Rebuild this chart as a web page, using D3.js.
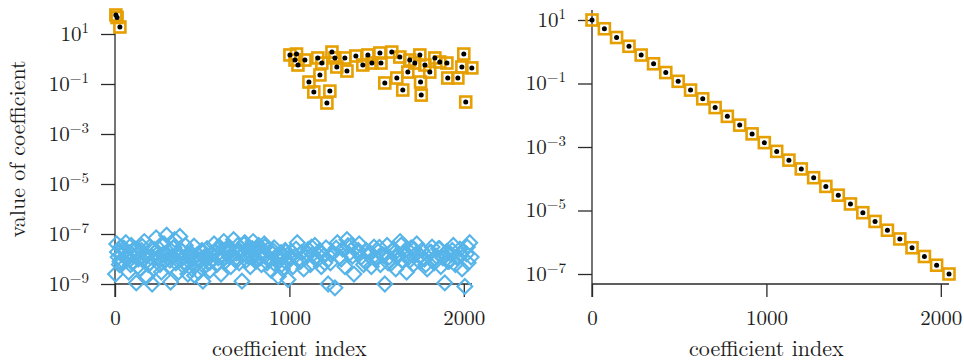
<!DOCTYPE html>
<html>
<head>
<meta charset="utf-8">
<script src="https://cdn.jsdelivr.net/npm/d3@7"></script>
<style>
  html, body { margin: 0; padding: 0; background: #fff; }
  svg { display: block; }
</style>
</head>
<body>
<svg id="chart" width="964" height="363"></svg>
<script>
// ---------- data ----------
// Left panel: large coefficients (orange squares with black dots)
const leftBigIndex = [5, 12, 28, 1003, 1032, 1041, 1049, 1089, 1112, 1140, 1163, 1175, 1186, 1215, 1232, 1244, 1261, 1272, 1318, 1330, 1381, 1421, 1450, 1473, 1519, 1525, 1547, 1587, 1616, 1633, 1650, 1679, 1690, 1719, 1748, 1752, 1756, 1777, 1805, 1834, 1862, 1903, 1908, 1966, 1989, 2000, 2011, 2046];
const leftBigValue = [57.5, 45.7, 19.1, 1.45, 0.91, 1.58, 0.575, 0.91, 0.12, 0.048, 1.1, 0.23, 0.69, 0.0174, 0.052, 1.9, 1.1, 0.48, 1.1, 0.33, 1.32, 0.575, 1.45, 0.69, 1.74, 0.69, 0.11, 1.9, 0.174, 1.2, 0.0575, 0.30, 0.91, 0.69, 1.45, 0.12, 0.036, 0.575, 0.30, 1.1, 0.76, 0.69, 0.174, 0.174, 0.48, 1.58, 0.019, 0.44];

// Left panel: tiny coefficients (blue diamonds)
const leftSmallIndex = [3, 10, 18, 25, 33, 40, 47, 55, 62, 70, 78, 86, 93, 100, 108, 115, 122, 130, 138, 145, 152, 160, 168, 175, 183, 190, 198, 206, 213, 221, 228, 236, 243, 251, 258, 266, 273, 281, 289, 296, 304, 311, 319, 327, 334, 342, 349, 357, 364, 372, 380, 388, 395, 403, 410, 418, 426, 433, 441, 449, 456, 464, 472, 480, 488, 496, 504, 512, 520, 528, 536, 544, 552, 560, 568, 576, 584, 592, 600, 608, 616, 624, 632, 640, 648, 656, 664, 672, 680, 688, 696, 704, 712, 720, 728, 736, 744, 752, 760, 768, 776, 784, 792, 800, 808, 816, 824, 832, 840, 848, 856, 864, 872, 880, 888, 896, 904, 912, 920, 928, 936, 944, 952, 960, 968, 976, 984, 992, 1000, 1010, 1020, 1032, 1045, 1058, 1070, 1082, 1095, 1108, 1120, 1133, 1146, 1158, 1170, 1183, 1196, 1210, 1222, 1235, 1248, 1261, 1275, 1290, 1305, 1318, 1330, 1342, 1355, 1370, 1387, 1400, 1412, 1425, 1440, 1455, 1470, 1485, 1498, 1510, 1522, 1535, 1547, 1560, 1572, 1585, 1598, 1610, 1622, 1635, 1648, 1660, 1672, 1685, 1698, 1710, 1722, 1730, 1745, 1760, 1775, 1790, 1805, 1818, 1830, 1842, 1855, 1868, 1880, 1891, 1903, 1915, 1928, 1940, 1952, 1965, 1978, 1990, 2006, 2015, 2025, 2034, 2042,
  14, 29, 51, 66, 89, 112, 134, 156, 179, 201, 224, 247, 269, 292, 315, 338, 361, 384, 407, 430, 453, 476, 499, 522, 545, 570, 595, 620, 645, 670, 695, 718, 740, 763, 787, 811, 835, 859, 883, 907, 931, 955, 979, 1005, 1038, 1064, 1101, 1127, 1152, 1177, 1203, 1241, 1268, 1297, 1336, 1362, 1395, 1432, 1462, 1492, 1516, 1541, 1566, 1591, 1616, 1641, 1666, 1691, 1716, 1752, 1782, 1812, 1836, 1861, 1886, 1909, 1934, 1959, 1984, 2020];
const leftSmallValue = [2.5e-9, 4e-8, 1.2e-8, 6e-9, 3e-8, 1.5e-8, 8e-9, 2e-8, 4.5e-8, 1e-8, 3e-9, 1.8e-8, 3.5e-8, 7e-9, 1.3e-8, 2.5e-8, 1.1e-9, 5e-9, 1.6e-8, 4e-9, 2.2e-8, 9e-9, 5e-8, 1.4e-8, 2e-9, 6e-9, 3e-8, 1.2e-8, 1e-9, 4e-9, 1.8e-8, 7e-8, 1.1e-8, 2.6e-8, 6e-9, 3e-9, 1.5e-8, 4e-8, 9e-9, 9e-8, 2e-8, 5e-9, 1.2e-9, 1.3e-8, 2.8e-8, 6e-8, 7e-9, 1.6e-8, 3e-9, 8e-8, 2.2e-8, 1.1e-8, 5e-9, 3.5e-8, 1.4e-8, 2.5e-9, 8e-9, 1.8e-8, 4e-9, 1e-8, 2.2e-9, 6e-9, 1.5e-8, 3e-9, 9e-9, 2e-8, 1.3e-9, 5e-9, 1.2e-8, 2.6e-8, 7e-9, 3.5e-9, 1.6e-8, 9e-9, 4e-8, 2e-8, 6e-9, 1.1e-8, 3e-8, 2.5e-9, 1.4e-8, 5e-8, 8e-9, 1.9e-8, 3e-8, 1.2e-8, 5e-9, 2.3e-8, 6e-8, 1e-8, 1.7e-8, 3.5e-8, 7e-9, 2.8e-8, 1.3e-9, 1.5e-8, 4.5e-8, 9e-9, 2.2e-8, 3e-8, 5e-9, 1.2e-8, 5e-8, 1.8e-8, 8e-9, 2.6e-8, 3.5e-8, 1.1e-8, 6e-9, 2e-8, 4e-8, 1.4e-8, 7e-9, 2.4e-8, 1e-8, 3.5e-9, 1.6e-8, 2.8e-8, 6e-9, 1.2e-8, 2e-9, 9e-9, 1.8e-8, 4e-9, 1.3e-8, 2.2e-8, 7e-9, 1.5e-9, 1.1e-8, 2e-8, 5e-9, 1.3e-8, 4.5e-8, 8e-9, 1.8e-8, 4e-9, 1.2e-8, 2.4e-8, 6e-9, 1.5e-8, 3.5e-8, 9e-9, 2e-8, 5e-9, 1.3e-8, 2.8e-8, 1e-9, 7e-9, 1.8e-8, 7e-10, 4.5e-8, 1.2e-8, 2.5e-8, 5e-9, 6e-8, 1.6e-8, 3.5e-8, 2.5e-9, 2e-8, 4e-8, 1.2e-8, 6e-9, 2.2e-8, 1.4e-8, 5e-9, 3e-8, 1e-8, 2e-8, 6e-9, 1.5e-8, 1e-9, 3.5e-8, 1.2e-8, 7e-9, 2.5e-8, 4e-9, 1.6e-8, 5e-8, 9e-9, 2e-8, 3e-9, 1.2e-8, 2.8e-8, 6e-9, 1.5e-8, 4e-8, 8e-9, 2.2e-8, 1e-8, 4e-9, 1.8e-8, 3e-8, 7e-9, 1.3e-8, 2.6e-8, 5e-9, 1.1e-8, 1.1e-9, 2e-8, 8e-9, 1.5e-8, 3.5e-8, 6e-9, 1.2e-8, 2.5e-8, 4e-9, 8e-10, 1.6e-8, 7e-9, 4.5e-8, 1.2e-8,
  1.9e-8, 8e-9, 2.7e-8, 1.3e-8, 6e-9, 2.1e-8, 1e-8, 3.2e-8, 1.5e-8, 7e-9, 2.4e-8, 1.1e-8, 4e-8, 1.7e-8, 9e-9, 2.9e-8, 1.2e-8, 2e-8, 6.5e-9, 1.5e-8, 3.3e-8, 1e-8, 2.2e-8, 1.4e-8, 7.5e-9, 1.8e-8, 3e-8, 1.1e-8, 2.3e-8, 1.6e-8, 8.5e-9, 2e-8, 3.8e-8, 1.3e-8, 2.6e-8, 1e-8, 1.7e-8, 3.1e-8, 9e-9, 2.1e-8, 1.4e-8, 6e-9, 1.9e-8, 1.2e-8, 2.5e-8, 8e-9, 1.6e-8, 3e-8, 1.1e-8, 2e-8, 7e-9, 1.5e-8, 2.7e-8, 1e-8, 3.4e-8, 1.3e-8, 2.2e-8, 8e-9, 1.8e-8, 1.1e-8, 2.9e-8, 1.4e-8, 7e-9, 2.1e-8, 1.2e-8, 3.6e-8, 1.6e-8, 9e-9, 2.4e-8, 1.3e-8, 6e-9, 1.9e-8, 1e-8, 2.6e-8, 1.5e-8, 8e-9, 2.2e-8, 1.2e-8, 1.7e-8, 3e-8];

// Right panel: decaying coefficients
const rightIndex = [0, 71, 141, 212, 282, 353, 423, 494, 565, 635, 706, 776, 847, 918, 988, 1059, 1129, 1200, 1271, 1341, 1412, 1482, 1553, 1623, 1694, 1765, 1835, 1906, 1976, 2047];
const rightValue = [10, 5.30, 2.81, 1.487, 0.788, 0.4175, 0.2212, 0.1172, 0.0621, 0.0329, 0.01743, 0.00924, 0.00489, 0.00259, 0.001373, 0.000728, 0.000386, 0.000204, 0.000108, 5.74e-5, 3.04e-5, 1.61e-5, 8.53e-6, 4.52e-6, 2.39e-6, 1.27e-6, 6.72e-7, 3.56e-7, 1.89e-7, 1e-7];

// Tick labels
const xTicks = [0, 1000, 2000];
const leftYTickExp = [1, -1, -3, -5, -7, -9];
const rightYTickExp = [1, -1, -3, -5, -7];
const xTitle = "coefficient index";
const yTitle = "value of coefficient";

// ---------- drawing ----------
const FONT = "'Latin Modern Roman'";
const ORANGE = "#E69F00", BLUE = "#56B4E9", AXIS = "#2a2a2a", TXT = "#1e1e1e";
const svg = d3.select("#chart");

function sup(n) { return (n < 0 ? "\u2212" : "") + Math.abs(n); }

function panel(opt) {
  const g = svg.append("g");
  const x = d3.scaleLinear().domain([0, 2047]).range([opt.x0, opt.x1]);
  const y = d3.scaleLog().domain(opt.yDomain).range([opt.yBottom, opt.yTop]);

  g.append("line").attr("x1", opt.x0).attr("x2", opt.x0)
    .attr("y1", opt.axisTop).attr("y2", opt.xAxisY + 13)
    .attr("stroke", AXIS).attr("stroke-width", 1.3);
  g.append("line").attr("x1", opt.x0).attr("x2", opt.x1)
    .attr("y1", opt.xAxisY).attr("y2", opt.xAxisY)
    .attr("stroke", AXIS).attr("stroke-width", 1.3);

  const ya = g.append("g").attr("transform", `translate(${opt.x0},0)`)
    .call(d3.axisLeft(y).tickValues(opt.yTicks.map(e => Math.pow(10, e)))
      .tickSize(14).tickPadding(12).tickSizeOuter(0).tickFormat(""));
  ya.attr("font-family", FONT);
  ya.select(".domain").remove();
  ya.selectAll(".tick line").attr("stroke", AXIS).attr("stroke-width", 1.3);
  ya.selectAll(".tick text")
    .attr("font-family", FONT).attr("font-size", 21).attr("fill", TXT).attr("dy", "0.3em")
    .each(function(d) {
      const t = d3.select(this);
      const e = Math.round(Math.log10(d));
      t.append("tspan").text("10");
      t.append("tspan").attr("font-size", 15).attr("dy", -8).text(sup(e));
    });

  const xa = g.append("g").attr("transform", `translate(0,${opt.xAxisY})`)
    .call(d3.axisBottom(x).tickValues(xTicks).tickSize(13).tickPadding(13)
      .tickSizeOuter(0).tickFormat(d3.format("d")));
  xa.attr("font-family", FONT);
  xa.select(".domain").remove();
  xa.selectAll(".tick line").attr("stroke", AXIS).attr("stroke-width", 1.3);
  xa.selectAll(".tick text").attr("font-family", FONT).attr("font-size", 21).attr("fill", TXT);

  g.append("text").attr("x", x(1000)).attr("y", 356)
    .attr("font-family", FONT).attr("fill", TXT)
    .attr("text-anchor", "middle").attr("font-size", 22)
    .text(xTitle);

  return { g, x, y };
}

const L = panel({ x0: 115, x1: 472, yDomain: [1e-9, 1e1], yBottom: 284, yTop: 34,
  axisTop: 33, xAxisY: 284, yTicks: leftYTickExp });

svg.append("text").attr("transform", "translate(25,149) rotate(-90)")
  .attr("font-family", FONT).attr("fill", TXT)
  .attr("text-anchor", "middle").attr("font-size", 22)
  .text(yTitle);

const small = leftSmallIndex.map((d, i) => ({ i: d, v: leftSmallValue[i] }));
const big = leftBigIndex.map((d, i) => ({ i: d, v: leftBigValue[i] }));
const D = 7.4;
L.g.append("g").selectAll("path").data(small).join("path")
  .attr("d", d => {
    const cx = L.x(d.i), cy = L.y(d.v);
    return `M${cx},${cy - D}L${cx + D},${cy}L${cx},${cy + D}L${cx - D},${cy}Z`;
  })
  .attr("fill", "none").attr("stroke", BLUE).attr("stroke-width", 2.1)
  .attr("stroke-linejoin", "miter");

const S = 11;
function squares(P, data) {
  P.g.append("g").selectAll("rect").data(data).join("rect")
    .attr("x", d => P.x(d.i) - S / 2).attr("y", d => P.y(d.v) - S / 2)
    .attr("width", S).attr("height", S)
    .attr("fill", "none").attr("stroke", ORANGE).attr("stroke-width", 2.6);
  P.g.append("g").selectAll("circle").data(data).join("circle")
    .attr("cx", d => P.x(d.i)).attr("cy", d => P.y(d.v)).attr("r", 2.5)
    .attr("fill", "#000");
}
squares(L, big);

const R = panel({ x0: 592, x1: 949, yDomain: [1e-7, 1e1], yBottom: 274, yTop: 20,
  axisTop: 10, xAxisY: 284, yTicks: rightYTickExp });
squares(R, rightIndex.map((d, i) => ({ i: d, v: rightValue[i] })));
</script>
</body>
</html>
